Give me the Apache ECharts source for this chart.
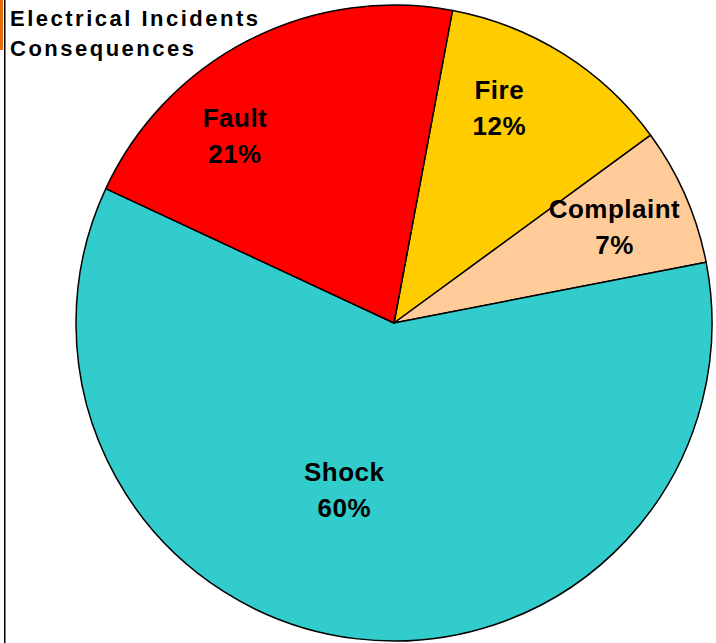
<!DOCTYPE html>
<html>
<head>
<meta charset="utf-8">
<script src="https://cdn.jsdelivr.net/npm/echarts@6/dist/echarts.min.js"></script>
<style>
  html, body { margin: 0; padding: 0; background: #fff; }
  #chart { width: 716px; height: 643px; }
  #chart text { letter-spacing: 0.5px; }
  #chart text.ttl { letter-spacing: 2.5px; }
</style>
</head>
<body>
<div id="chart"></div>
<script>
const titleLines = ['Electrical Incidents', 'Consequences'];
const categories = ['Fire', 'Complaint', 'Shock', 'Fault'];
const values = [12, 7, 60, 21];
const colors = ['#FFCC00', '#FFCC99', '#33CCCC', '#FF0000'];
const labelOffsets = [[19, -78], [72, -31], [-30, 6], [-85, -43]];

const FONT = '"Liberation Sans", Arial, sans-serif';

const chart = echarts.init(document.getElementById('chart'), null, { renderer: 'svg' });
chart.setOption({
  animation: false,
  backgroundColor: '#fff',
  graphic: [
    { type: 'rect', shape: { x: 0, y: 0, width: 3, height: 50 }, style: { fill: '#E36C0A' } },
    { type: 'rect', shape: { x: 4, y: 0, width: 1.5, height: 643 }, style: { fill: '#000' } }
  ],
  title: {
    text: titleLines.join('\n'),
    left: 5,
    top: -2,
    textStyle: { fontFamily: FONT, fontWeight: 'bold', fontSize: 22, lineHeight: 30, color: '#000' }
  },
  series: [{
    type: 'pie',
    center: [394, 323],
    radius: 318,
    startAngle: 79.4,
    clockwise: true,
    avoidLabelOverlap: false,
    data: categories.map((c, i) => ({
      name: c,
      value: values[i],
      itemStyle: { color: colors[i] },
      label: { offset: labelOffsets[i] }
    })),
    itemStyle: { borderColor: '#000', borderWidth: 1.5 },
    label: {
      show: true,
      position: 'inside',
      formatter: p => p.name + '\n' + Math.round(p.percent) + '%',
      fontFamily: FONT,
      fontWeight: 'bold',
      fontSize: 26,
      lineHeight: 36,
      color: '#000'
    },
    labelLine: { show: false },
    emphasis: { disabled: true }
  }]
});
// apply wider character spacing to the title lines only
chart.on('finished', () => {});
setTimeout(() => {}, 0);
(function markTitle() {
  const texts = document.querySelectorAll('#chart text');
  texts.forEach(t => {
    if (titleLines.indexOf(t.textContent) >= 0) t.classList.add('ttl');
  });
})();
</script>
</body>
</html>
